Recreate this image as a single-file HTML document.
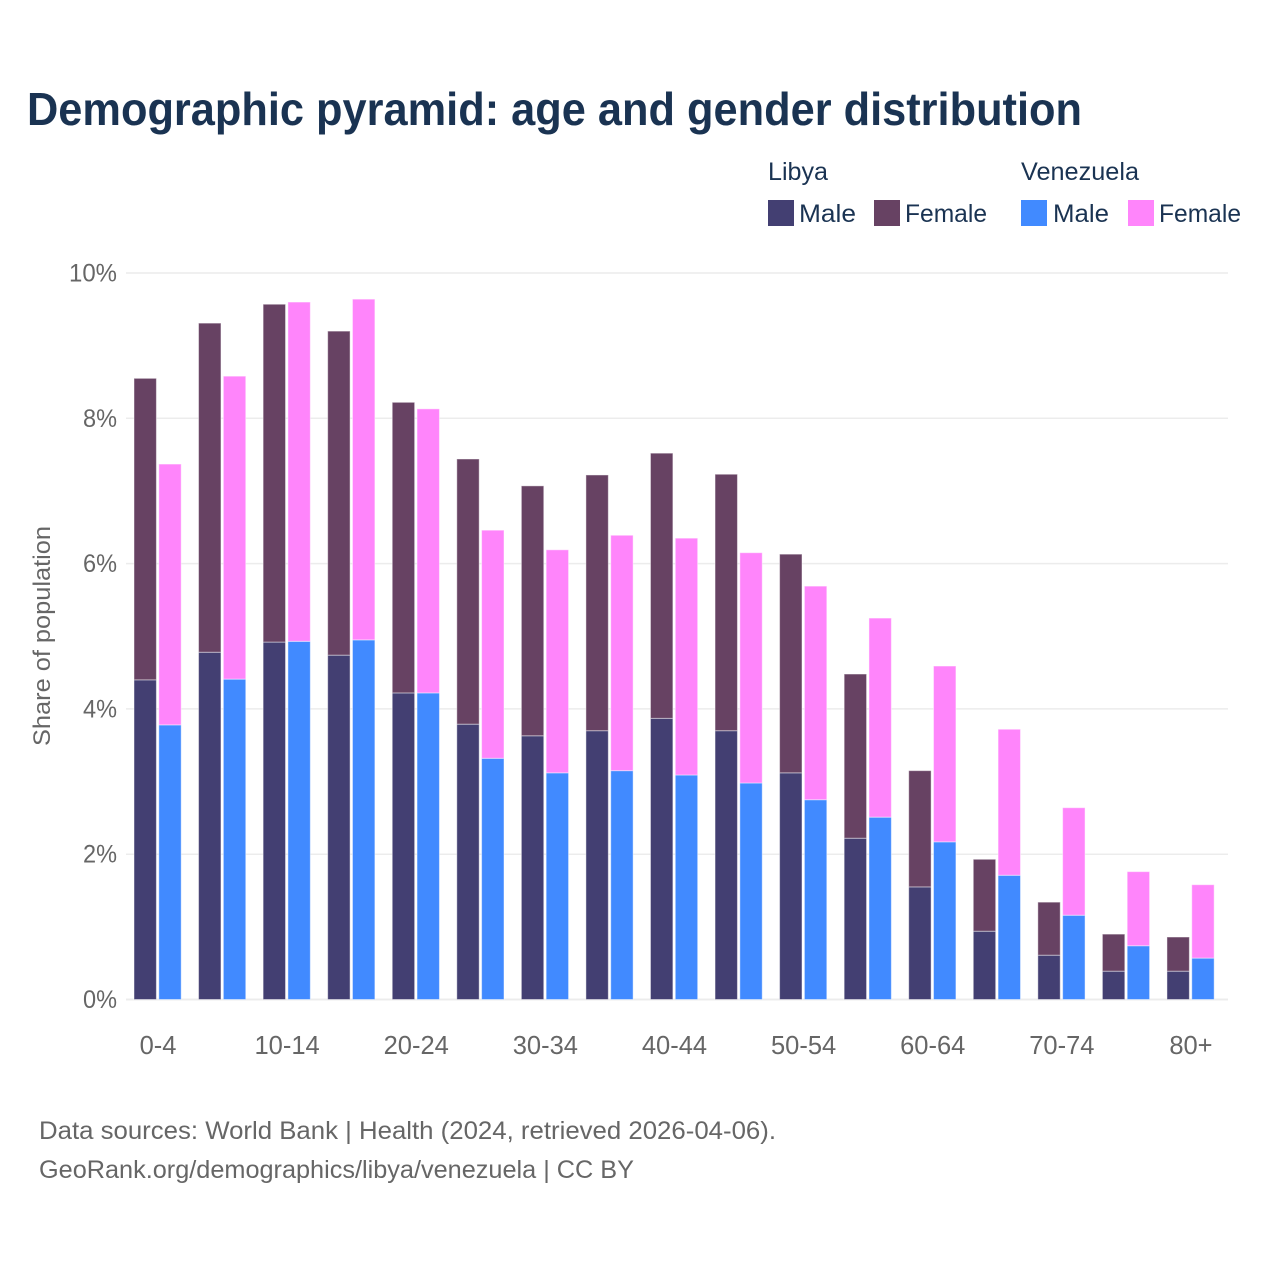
<!DOCTYPE html>
<html lang="en">
<head>
<meta charset="utf-8">
<title>Demographic pyramid: age and gender distribution</title>
<style>
html,body{margin:0;padding:0;background:#fff;}
svg{display:block;font-family:"Liberation Sans",sans-serif;}
</style>
</head>
<body>
<svg id="chart" xmlns="http://www.w3.org/2000/svg" width="1280" height="1280" viewBox="0 0 1280 1280">
  <rect x="0" y="0" width="1280" height="1280" fill="#ffffff"/>
  <text x="27" y="125" font-size="46" font-weight="700" fill="#1a3352" textLength="1055" lengthAdjust="spacingAndGlyphs">Demographic pyramid: age and gender distribution</text>

  <g font-size="25" fill="#1a3352">
    <text x="768" y="180" textLength="60" lengthAdjust="spacingAndGlyphs">Libya</text>
    <text x="1021" y="180" textLength="118" lengthAdjust="spacingAndGlyphs">Venezuela</text>
    <rect x="768" y="200" width="26" height="26" fill="#433f72"/>
    <text x="799" y="222" textLength="57" lengthAdjust="spacingAndGlyphs">Male</text>
    <rect x="874" y="200" width="26" height="26" fill="#674263"/>
    <text x="905" y="222" textLength="82" lengthAdjust="spacingAndGlyphs">Female</text>
    <rect x="1021" y="200" width="26" height="26" fill="#418aff"/>
    <text x="1053" y="222" textLength="56" lengthAdjust="spacingAndGlyphs">Male</text>
    <rect x="1128" y="200" width="26" height="26" fill="#ff85fb"/>
    <text x="1159" y="222" textLength="82" lengthAdjust="spacingAndGlyphs">Female</text>
  </g>

  <g id="grid"></g>
  <g id="y-labels"></g>
  <g id="bars"></g>
  <g id="x-labels"></g>

  <text transform="translate(50,746) rotate(-90)" x="0" y="0" font-size="24" fill="#666666" textLength="220" lengthAdjust="spacingAndGlyphs">Share of population</text>

  <text x="39" y="1139" font-size="25" fill="#666666" textLength="737" lengthAdjust="spacingAndGlyphs">Data sources: World Bank | Health (2024, retrieved 2026-04-06).</text>
  <text x="39" y="1178" font-size="25" fill="#666666" textLength="595" lengthAdjust="spacingAndGlyphs">GeoRank.org/demographics/libya/venezuela | CC BY</text>
</svg>
<script>
const categories = ["0-4","5-9","10-14","15-19","20-24","25-29","30-34","35-39","40-44","45-49","50-54","55-59","60-64","65-69","70-74","75-79","80+"];
const shownCategories = ["0-4","10-14","20-24","30-34","40-44","50-54","60-64","70-74","80+"];
const libyaMale = [4.40,4.78,4.92,4.74,4.22,3.79,3.63,3.70,3.87,3.70,3.12,2.22,1.55,0.94,0.61,0.39,0.39];
const libyaFemale = [4.15,4.53,4.65,4.46,4.00,3.65,3.44,3.52,3.65,3.53,3.01,2.26,1.60,0.99,0.73,0.51,0.47];
const venezuelaMale = [3.78,4.41,4.93,4.95,4.22,3.32,3.12,3.15,3.09,2.98,2.75,2.51,2.17,1.71,1.16,0.74,0.57];
const venezuelaFemale = [3.59,4.17,4.67,4.69,3.91,3.14,3.07,3.24,3.26,3.17,2.94,2.74,2.42,2.01,1.48,1.02,1.01];
const yTicks = [0,2,4,6,8,10];

const NS = "http://www.w3.org/2000/svg";
function yScale(v){ return 999.5 - v * 72.65; }
function xScale(i){ return 158 + i * 64.56; }

const gridGroup = document.getElementById("grid");
const yLabelGroup = document.getElementById("y-labels");
yTicks.forEach(function(t){
  const line = document.createElementNS(NS, "line");
  
  
  line.setAttribute("x1", 126);
  line.setAttribute("x2", 1228);
  line.setAttribute("y1", yScale(t));
  line.setAttribute("y2", yScale(t));
  line.setAttribute("stroke", "#ececec");
  line.setAttribute("stroke-width", t === 0 ? 2 : 1.5);
  gridGroup.appendChild(line);

  const label = document.createElementNS(NS, "text");
  
  
  label.setAttribute("x", 117);
  label.setAttribute("y", yScale(t) + 8.5);
  label.setAttribute("text-anchor", "end");
  label.setAttribute("font-size", 25);
  label.setAttribute("fill", "#666666");
  label.setAttribute("textLength", t === 10 ? 48 : 34);
  label.setAttribute("lengthAdjust", "spacingAndGlyphs");
  label.textContent = t + "%";
  yLabelGroup.appendChild(label);
});

const barGroup = document.getElementById("bars");
function drawBar(x, base, value, color, name){
  const r = document.createElementNS(NS, "rect");
  
  
  r.setAttribute("x", x);
  r.setAttribute("y", yScale(base + value));
  r.setAttribute("width", 22.4);
  r.setAttribute("height", yScale(base) - yScale(base + value));
  r.setAttribute("fill", color);
  r.setAttribute("stroke", "#ffffff");
  r.setAttribute("stroke-opacity", "0.45");
  r.setAttribute("stroke-width", "1");
  barGroup.appendChild(r);
}
categories.forEach(function(c, i){
  const cx = xScale(i);
  drawBar(cx - 24, 0, libyaMale[i], "#433f72", "bar-libya-male-" + c);
  drawBar(cx - 24, libyaMale[i], libyaFemale[i], "#674263", "bar-libya-female-" + c);
  drawBar(cx + 0.8, 0, venezuelaMale[i], "#418aff", "bar-venezuela-male-" + c);
  drawBar(cx + 0.8, venezuelaMale[i], venezuelaFemale[i], "#ff85fb", "bar-venezuela-female-" + c);
});

const xLabelGroup = document.getElementById("x-labels");
shownCategories.forEach(function(c){
  const i = categories.indexOf(c);
  const t = document.createElementNS(NS, "text");
  
  
  t.setAttribute("x", xScale(i));
  t.setAttribute("y", 1054);
  t.setAttribute("text-anchor", "middle");
  t.setAttribute("font-size", 25.5);
  t.setAttribute("fill", "#666666");
  t.textContent = c;
  xLabelGroup.appendChild(t);
});
</script>
</body>
</html>
